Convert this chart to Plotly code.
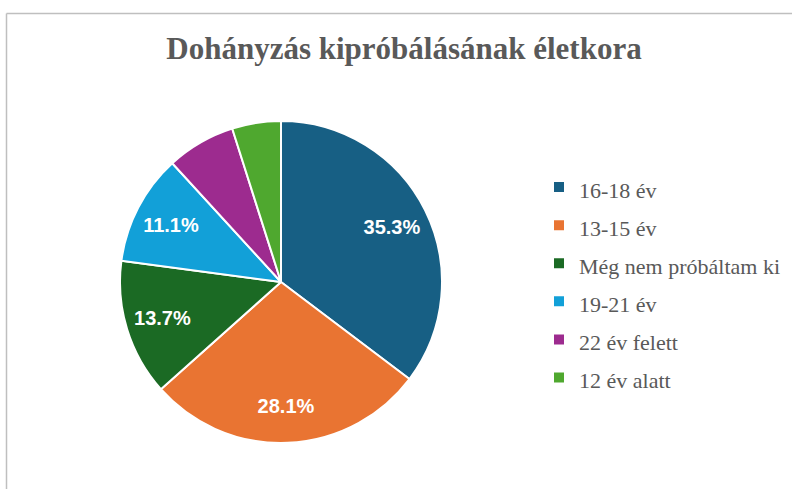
import plotly.graph_objects as go

categories = ["16-18 év", "13-15 év", "Még nem próbáltam ki", "19-21 év", "22 év felett", "12 év alatt"]
values = [35.3, 28.1, 13.7, 11.1, 6.9, 4.9]
colors = ["#175F84", "#E97432", "#1B6A24", "#12A0D8", "#9D2B8F", "#4FA82F"]
show_label = [True, True, True, True, False, False]
title_text = "Dohányzás kipróbálásának életkora"

W, H = 792, 489

legend_labels = ['<span style="font-size:22px">%s</span>' % c for c in categories]
templates = ["%{percent:.1%}" if s else "" for s in show_label]

cx, cy, r = 281, 282, 161
domain = dict(x=[(cx - r) / W, (cx + r) / W], y=[(H - cy - r) / H, (H - cy + r) / H])

fig = go.Figure()
# the pie itself
fig.add_trace(
    go.Pie(
        labels=legend_labels,
        values=values,
        sort=False,
        direction="clockwise",
        rotation=0,
        marker=dict(colors=colors, line=dict(color="white", width=2)),
        textinfo="none",
        hoverinfo="skip",
        domain=domain,
    )
)
# transparent ring on top that carries the percentage labels toward the rim
fig.add_trace(
    go.Pie(
        labels=legend_labels,
        values=values,
        sort=False,
        direction="clockwise",
        rotation=0,
        hole=0.54,
        marker=dict(colors=["rgba(0,0,0,0)"] * len(values), line=dict(width=0)),
        texttemplate=templates,
        textposition="inside",
        insidetextorientation="horizontal",
        textfont=dict(family="Liberation Sans, Arial, sans-serif", size=20, color="white", weight="bold"),
        hoverinfo="skip",
        showlegend=False,
        domain=domain,
    )
)

fig.update_layout(
    width=W,
    height=H,
    margin=dict(l=0, r=0, t=0, b=0),
    paper_bgcolor="white",
    plot_bgcolor="white",
    title=dict(
        text="<b>%s</b>" % title_text,
        x=404 / W,
        xanchor="center",
        y=1 - 48 / H,
        yanchor="middle",
        font=dict(family="Liberation Serif, Times New Roman, serif", size=31, color="#595959"),
    ),
    legend=dict(
        x=539 / W,
        xanchor="left",
        y=1 - 163 / H,
        yanchor="top",
        font=dict(family="Liberation Serif, Times New Roman, serif", size=27, color="#595959"),
        bgcolor="rgba(0,0,0,0)",
    ),
    shapes=[
        dict(type="line", xref="paper", yref="paper", x0=6.5 / W, x1=1, y0=1 - 13.5 / H, y1=1 - 13.5 / H,
             line=dict(color="#BFBFBF", width=1.5)),
        dict(type="line", xref="paper", yref="paper", x0=6.5 / W, x1=6.5 / W, y0=0, y1=1 - 13.5 / H,
             line=dict(color="#BFBFBF", width=1.5)),
    ],
)

fig.write_html("out.html", config={"displayModeBar": False},
               post_script="document.body.style.margin='0';")
